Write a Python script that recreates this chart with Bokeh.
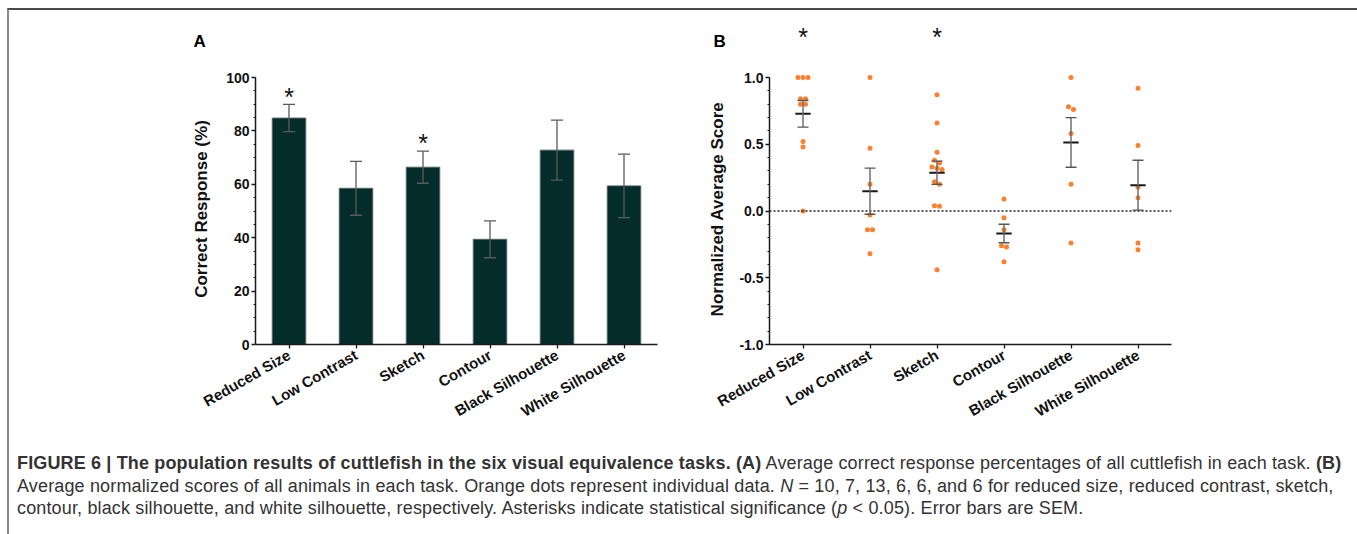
import math
import numpy as np
from bokeh.plotting import figure
from bokeh.models import (FactorRange, Range1d, SingleIntervalTicker, PrintfTickFormatter,
                          Whisker, TeeHead, ColumnDataSource, Span, Div)
from bokeh.layouts import row, column
from bokeh.transform import dodge
from bokeh.embed import file_html
from bokeh.resources import INLINE
from bokeh.core.properties import value

# ---------------- data ----------------
tasks = ["Reduced Size", "Low Contrast", "Sketch", "Contour", "Black Silhouette", "White Silhouette"]

# Panel A: correct response (%) mean and SEM
pct_mean = [84.8, 58.5, 66.4, 39.4, 72.8, 59.4]
pct_sem = [5.1, 10.1, 6.0, 6.9, 11.2, 11.9]
pct_sig = [True, False, True, False, False, False]

# Panel B: normalized average score of individual animals
score_reduced = [1.0, 1.0, 1.0, 0.84, 0.84, 0.80, 0.80, 0.52, 0.48, 0.0]
score_low = [1.0, 0.47, 0.20, -0.03, -0.14, -0.14, -0.32]
score_sketch = [0.87, 0.66, 0.44, 0.38, 0.36, 0.33, 0.32, 0.31, 0.22, 0.20, 0.04, 0.035, -0.44]
score_contour = [0.09, -0.05, -0.14, -0.26, -0.27, -0.38]
score_black = [1.0, 0.78, 0.76, 0.58, 0.20, -0.24]
score_white = [0.92, 0.49, 0.18, 0.10, -0.24, -0.29]
score_sig = [True, False, True, False, False, False]

scores = [score_reduced, score_low, score_sketch, score_contour, score_black, score_white]

# ---------------- geometry / style ----------------
FONT = "Liberation Sans"
BAR = "#042c2b"
ORANGE = "#ff7f2a"
FRAME_W, FRAME_H = 402, 271
TOP_H = 53
A_LEFT, A_RIGHT = 246, 20
B_LEFT, B_RIGHT = 92, 183
CAT_W = FRAME_W / len(tasks)
COMMON = dict(output_backend="svg", toolbar_location=None)


def style(p, title):
    p.xgrid.visible = False
    p.ygrid.visible = False
    p.outline_line_color = None
    p.x_range.range_padding = 0
    for ax in (p.xaxis[0], p.yaxis[0]):
        ax.axis_line_width = 1.5
        ax.axis_line_color = "#1a1a1a"
        ax.major_tick_line_width = 1.3
        ax.major_tick_line_color = "#1a1a1a"
        ax.minor_tick_line_color = "#1a1a1a"
        ax.major_tick_in = 0
        ax.major_tick_out = 4
        ax.minor_tick_in = 0
        ax.minor_tick_out = 2
        ax.major_label_text_font = FONT
        ax.major_label_text_font_style = "bold"
        ax.major_label_text_color = "#111111"
    p.xaxis.major_label_text_font_size = "15px"
    p.yaxis.major_label_text_font_size = "14px"
    p.xaxis.major_label_orientation = math.pi / 6
    p.xaxis.major_label_standoff = 5
    p.yaxis.major_label_standoff = 2
    p.yaxis.axis_label = title
    p.yaxis.axis_label_text_font = FONT
    p.yaxis.axis_label_text_font_style = "bold"
    p.yaxis.axis_label_text_font_size = "17px"
    p.yaxis.axis_label_text_color = "#111111"


def top_strip(width, x_range):
    t = figure(x_range=x_range, y_range=Range1d(0, TOP_H), frame_width=width, frame_height=TOP_H,
               min_border=0, x_axis_location=None, y_axis_location=None, **COMMON)
    t.xgrid.visible = False
    t.ygrid.visible = False
    t.outline_line_color = None
    return t


# ---------------- panel A ----------------
pA = figure(x_range=FactorRange(*tasks), y_range=Range1d(0, 101.5),
            frame_width=FRAME_W, frame_height=FRAME_H,
            min_border_left=A_LEFT, min_border_right=A_RIGHT, min_border_top=10, min_border_bottom=100,
            **COMMON)
style(pA, "Correct Response (%)")
pA.yaxis.ticker = SingleIntervalTicker(interval=20, num_minor_ticks=4)
pA.yaxis.bounds = (0, 100)
pA.yaxis.axis_label_standoff = 12

srcA = ColumnDataSource(dict(task=tasks, mean=pct_mean,
                             upper=[m + s for m, s in zip(pct_mean, pct_sem)],
                             lower=[m - s for m, s in zip(pct_mean, pct_sem)]))
pA.vbar(x="task", top="mean", width=0.5, source=srcA, fill_color=BAR,
        line_color="#56625f", line_width=1)
pA.add_layout(Whisker(base="task", upper="upper", lower="lower", source=srcA,
                      line_color="#5a5a5a", line_width=1.3, level="overlay",
                      upper_head=TeeHead(size=12, line_color="#5a5a5a", line_width=1.3),
                      lower_head=TeeHead(size=12, line_color="#5a5a5a", line_width=1.3)))
starA = ColumnDataSource(dict(task=[t for t, s in zip(tasks, pct_sig) if s],
                              y=[m + e + 2.9 for m, e, s in zip(pct_mean, pct_sem, pct_sig) if s]))
pA.text(x="task", y="y", text=value("*"), source=starA, text_font=value(FONT),
        text_font_size="25px", text_align="center", text_baseline="middle", text_color="#111111")

# ---------------- panel B ----------------
pB = figure(x_range=FactorRange(*tasks), y_range=Range1d(-1, 1.03),
            frame_width=FRAME_W, frame_height=FRAME_H,
            min_border_left=B_LEFT, min_border_right=B_RIGHT, min_border_top=10, min_border_bottom=100,
            **COMMON)
style(pB, "Normalized Average Score")
pB.yaxis.ticker = SingleIntervalTicker(interval=0.5, num_minor_ticks=5)
pB.yaxis.formatter = PrintfTickFormatter(format="%.1f")
pB.yaxis.bounds = (-1, 1)
pB.yaxis.axis_label_standoff = 9

pB.add_layout(Span(location=0, dimension="width", line_color="#222222", line_width=1.3,
                   line_dash="2 2"))

# individual dots, spread sideways when values overlap
dx, dy = [], []
for t, vals in zip(tasks, scores):
    vs = sorted(vals, reverse=True)
    groups = []
    for v in vs:
        if groups and groups[-1][0] - v < 0.03:
            groups[-1].append(v)
        else:
            groups.append([v])
    for g in groups:
        n = len(g)
        for i, v in enumerate(g):
            dx.append((t, (i - (n - 1) / 2) * 0.075))
            dy.append(v)
pB.scatter(x=dx, y=dy, size=5, fill_color=ORANGE, line_color=None)

means = [float(np.mean(s)) for s in scores]
sems = [float(np.std(s, ddof=1) / np.sqrt(len(s))) for s in scores]
srcB = ColumnDataSource(dict(task=tasks, mean=means,
                             upper=[m + s for m, s in zip(means, sems)],
                             lower=[m - s for m, s in zip(means, sems)]))
pB.add_layout(Whisker(base="task", upper="upper", lower="lower", source=srcB,
                      line_color="#666666", line_width=1.4, level="overlay",
                      upper_head=TeeHead(size=11, line_color="#555555", line_width=1.4),
                      lower_head=TeeHead(size=11, line_color="#555555", line_width=1.4)))
pB.segment(x0=dodge("task", -0.115, range=pB.x_range), x1=dodge("task", 0.115, range=pB.x_range),
           y0="mean", y1="mean", source=srcB, line_color="#1a1a1a", line_width=2)

# ---------------- top strips: panel letters and significance stars of B ----------------
wA = A_LEFT + FRAME_W + A_RIGHT
wB = B_LEFT + FRAME_W + B_RIGHT
tA = top_strip(wA, Range1d(0, wA))
tA.text(x=[A_LEFT - 62], y=[22], text=["A"], text_font=value(FONT), text_font_style="bold",
        text_font_size="17px", text_baseline="middle", text_align="left", text_color="#000000")

b0 = -B_LEFT / CAT_W
tB = top_strip(wB, Range1d(b0, b0 + wB / CAT_W))
tB.text(x=[-56 / CAT_W], y=[22], text=["B"], text_font=value(FONT), text_font_style="bold",
        text_font_size="17px", text_baseline="middle", text_align="left", text_color="#000000")
star_x = [i + 0.5 for i, s in enumerate(score_sig) if s]
tB.text(x=star_x, y=[27] * len(star_x), text=["*"] * len(star_x), text_font=value(FONT),
        text_font_size="25px", text_baseline="middle", text_align="center", text_color="#111111")

# ---------------- caption ----------------
n_txt = ", ".join(str(len(s)) for s in scores[:-1]) + ", and " + str(len(scores[-1]))
cap_html = (
    "<b>FIGURE 6 | The population results of cuttlefish in the six visual equivalence tasks. (A)</b> "
    "Average correct response percentages of all cuttlefish in each task. <b>(B)</b><br>"
    "Average normalized scores of all animals in each task. Orange dots represent individual data. "
    "<i>N</i> = " + n_txt + " for reduced size, reduced contrast, sketch,<br>"
    "contour, black silhouette, and white silhouette, respectively. Asterisks indicate statistical "
    "significance (<i>p</i> &lt; 0.05). Error bars are SEM."
)
cap = Div(text=cap_html, width=wA + wB, height=82,
          styles={"font-family": "'Liberation Sans', Arial, sans-serif", "font-size": "18px",
                  "letter-spacing": "0.15px", "line-height": "22.5px", "color": "#333333",
                  "white-space": "nowrap", "padding-left": "3px", "padding-top": "3px"})

layout = column(row(tA, tB), row(pA, pB), cap,
                styles={"margin": "8px 0 0 7px",
                        "border-top": "2px solid #4a4a4a", "border-left": "2px solid #8a8a8a",
                        "border-right": "2px solid #8a8a8a"})

open("out.html", "w").write(file_html(layout, INLINE))
